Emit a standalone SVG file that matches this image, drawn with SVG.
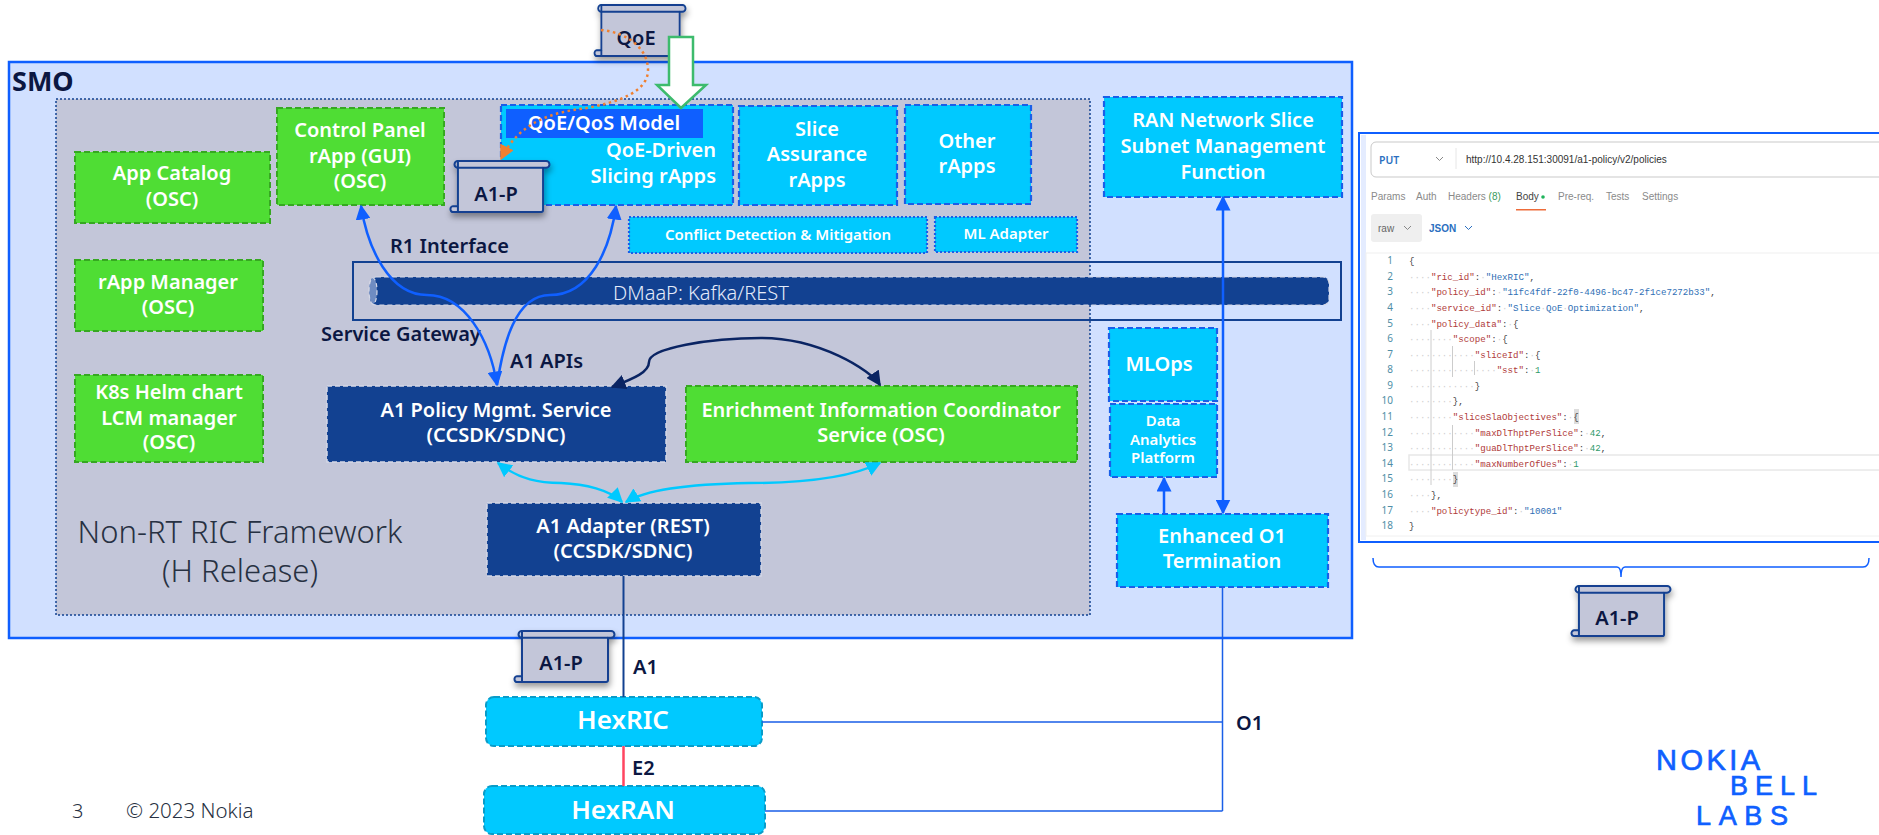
<svg xmlns="http://www.w3.org/2000/svg" width="1879" height="835" viewBox="0 0 1879 835">
<style>
text{font-family:"Noto Sans","Open Sans","Liberation Sans",sans-serif}
.w{fill:#fff;font-weight:600;text-anchor:middle}
.d{fill:#0b1742;font-weight:600}
.cy{fill:#00c9ff;stroke:#1a5fe8;stroke-width:2.2;stroke-dasharray:6 3}
.gr{fill:#4fdd34;stroke:#36a821;stroke-width:2;stroke-dasharray:6 3}
.nv{fill:#124191;stroke:#d5d8e6;stroke-width:1.5;stroke-dasharray:5 3}
.hx{fill:#00c9ff;stroke:#0a9cc8;stroke-width:2;stroke-dasharray:6 3}
.f20{font-size:20px}.f15{font-size:15px}
.m{font-family:"Liberation Mono",monospace;font-size:9.15px}
.sm{font-family:"Liberation Sans",sans-serif;font-size:10px;fill:#8a8a8a}
.s{fill:#d0d0d0}.k{fill:#b03a3a}.v{fill:#2f6fb5}.n{fill:#2f9a6c}.p{fill:#444}
.ln{font-family:"Liberation Mono",monospace;font-size:10px;fill:#4f8ea6;text-anchor:end}
.logo{fill:#0f5fff;font-family:"Liberation Sans",sans-serif;stroke:#0f5fff;stroke-width:.7}
</style>
<defs>
<filter id="sh" x="-20%" y="-20%" width="150%" height="150%"><feDropShadow dx="1" dy="4" stdDeviation="3" flood-color="#000" flood-opacity=".4"/></filter>
<marker id="ab" viewBox="0 0 10 10" refX="9" refY="5" markerWidth="6" markerHeight="6" orient="auto-start-reverse" markerUnits="strokeWidth"><path d="M0 0L10 5L0 10z" fill="#0f5fff"/></marker>
<marker id="an" viewBox="0 0 10 10" refX="9" refY="5" markerWidth="6" markerHeight="6" orient="auto-start-reverse" markerUnits="strokeWidth"><path d="M0 0L10 5L0 10z" fill="#0a2463"/></marker>
<marker id="ac" viewBox="0 0 10 10" refX="9" refY="5" markerWidth="6" markerHeight="6" orient="auto-start-reverse" markerUnits="strokeWidth"><path d="M0 0L10 5L0 10z" fill="#00c9ff"/></marker>
<marker id="ao" viewBox="0 0 10 10" refX="9" refY="5" markerWidth="6" markerHeight="6" orient="auto" markerUnits="strokeWidth"><path d="M0 0L10 5L0 10z" fill="#f08030"/></marker>
<symbol id="scroll" viewBox="0 0 100 56" preserveAspectRatio="none" overflow="visible">
<path d="M7 2H96a3 3 0 0 1 0 7H93V52a2 2 0 0 1-2 2H3a3 3 0 0 1-1-6H7z" fill="#c3c6d9" stroke="#124191" stroke-width="2" stroke-linejoin="round"/>
<path d="M7 9H93M7 2a3 3 0 0 0 0 7M7 48V54" fill="none" stroke="#124191" stroke-width="2"/>
</symbol>
</defs>

<g id="smo"><rect x="9" y="62" width="1343" height="576" fill="#d1e0ff" stroke="#0f5fff" stroke-width="2.5"/><text x="12" y="91" font-size="27" class="d" style="font-weight:700">SMO</text></g>
<g id="framework"><rect x="56" y="99" width="1034" height="516" fill="#c3c6d9" stroke="#124191" stroke-width="1.5" stroke-dasharray="2 2"/>
<text x="240" y="543" font-size="31" font-weight="300" fill="#273142" text-anchor="middle">Non-RT RIC Framework</text>
<text x="240" y="582" font-size="31" font-weight="300" fill="#273142" text-anchor="middle">(H Release)</text></g>

<g id="app-catalog"><rect class="gr" x="75" y="152" width="195" height="71"/><text class="w f20" x="172" y="180">App Catalog</text><text class="w f20" x="172" y="206">(OSC)</text></g>
<g id="rapp-manager"><rect class="gr" x="75" y="260" width="188" height="71"/><text class="w f20" x="168" y="289">rApp Manager</text><text class="w f20" x="168" y="314">(OSC)</text></g>
<g id="k8s"><rect class="gr" x="75" y="375" width="188" height="87"/><text class="w f20" x="169" y="399">K8s Helm chart</text><text class="w f20" x="169" y="425">LCM manager</text><text class="w f20" x="169" y="449">(OSC)</text></g>
<g id="control-panel"><rect class="gr" x="277" y="108" width="167" height="97"/><text class="w f20" x="360" y="137">Control Panel</text><text class="w f20" x="360" y="163">rApp (GUI)</text><text class="w f20" x="360" y="188">(OSC)</text></g>
<g id="qoe-driven"><rect class="cy" x="501" y="105" width="232" height="100"/><rect x="506" y="109" width="197" height="29" fill="#0f5fff"/><text class="w f20" x="604" y="130">QoE/QoS Model</text><text class="w f20" x="716" y="157" style="text-anchor:end">QoE-Driven</text><text class="w f20" x="716" y="183" style="text-anchor:end">Slicing rApps</text></g>
<g id="slice-assurance"><rect class="cy" x="739" y="106" width="158" height="99"/><text class="w f20" x="817" y="136">Slice</text><text class="w f20" x="817" y="161">Assurance</text><text class="w f20" x="817" y="187">rApps</text></g>
<g id="other-rapps"><rect class="cy" x="905" y="105" width="126" height="99"/><text class="w f20" x="967" y="148">Other</text><text class="w f20" x="967" y="173">rApps</text></g>
<g id="conflict"><rect class="cy" x="629" y="217" width="298" height="36" style="stroke-dasharray:2 2"/><text class="w f15" x="778" y="240">Conflict Detection &amp; Mitigation</text></g>
<g id="ml-adapter"><rect class="cy" x="935" y="217" width="142" height="35" style="stroke-dasharray:2 2"/><text class="w f15" x="1006" y="239">ML Adapter</text></g>
<g id="nssmf"><rect class="cy" x="1104" y="97" width="238" height="100"/><text class="w f20" x="1223" y="127">RAN Network Slice</text><text class="w f20" x="1223" y="153">Subnet Management</text><text class="w f20" x="1223" y="179">Function</text></g>
<g id="service-gateway"><rect x="353" y="262" width="988" height="58" fill="none" stroke="#124191" stroke-width="2"/><text class="d f20" x="321" y="341">Service Gateway</text></g>
<g id="dmaap"><rect x="370" y="277" width="959" height="28" rx="6" fill="#124191" stroke="#d5d8e6" stroke-width="1.2" stroke-dasharray="5 3"/><ellipse cx="373" cy="291" rx="4" ry="13" fill="#6f8cc2" stroke="#d5d8e6" stroke-width="1.200" stroke-dasharray="4 3"/><text x="613" y="300" font-size="20" font-weight="300" fill="#e4ebfa">DMaaP: Kafka/REST</text></g>
<g id="a1-policy"><rect class="nv" x="327" y="386" width="339" height="76"/><text class="w f20" x="496" y="417">A1 Policy Mgmt. Service</text><text class="w f20" x="496" y="442">(CCSDK/SDNC)</text></g>
<g id="enrichment"><rect class="gr" x="686" y="386" width="391" height="76"/><text class="w f20" x="881" y="417">Enrichment Information Coordinator</text><text class="w f20" x="881" y="442">Service (OSC)</text></g>
<g id="a1-adapter"><rect class="nv" x="487" y="503" width="274" height="73"/><text class="w f20" x="623" y="533">A1 Adapter (REST)</text><text class="w f20" x="623" y="558">(CCSDK/SDNC)</text></g>
<g id="mlops"><rect class="cy" x="1109" y="328" width="108" height="73"/><text class="w f20" x="1159" y="371">MLOps</text></g>
<g id="data-analytics"><rect class="cy" x="1110" y="404" width="107" height="73"/><text class="w f15" x="1163" y="426">Data</text><text class="w f15" x="1163" y="445">Analytics</text><text class="w f15" x="1163" y="463">Platform</text></g>
<g id="o1-term"><rect class="cy" x="1117" y="514" width="211" height="73"/><text class="w f20" x="1222" y="543">Enhanced O1</text><text class="w f20" x="1222" y="568">Termination</text></g>
<g id="hexric"><rect class="hx" x="486" y="697" width="276" height="49" rx="8"/><text class="w" font-size="26" x="623" y="729">HexRIC</text></g>
<g id="hexran"><rect class="hx" x="484" y="786" width="281" height="48" rx="8"/><text class="w" font-size="26" x="623" y="819">HexRAN</text></g>

<g id="connectors" fill="none">
<path d="M623.500 576V697" stroke="#124191" stroke-width="2"/>
<path d="M623.500 746V786" stroke="#ff4560" stroke-width="2.500"/>
<path d="M762 722H1222.500M765 811H1222.500M1222.500 587V811" stroke="#1a5fe8" stroke-width="1.500"/>
<path d="M361 206C368 250 390 295 427 295C465 295 490 340 497 385" stroke="#0f5fff" stroke-width="2.500" marker-start="url(#ab)" marker-end="url(#ab)"/>
<path d="M616 206C610 250 590 295 550 295C515 295 503 345 497 385" stroke="#0f5fff" stroke-width="2.500" marker-start="url(#ab)"/>
<path d="M612 387C635 378 649 372 649 362C649 348 710 338 761 338C820 338 870 370 880 385" stroke="#0a2463" stroke-width="2.500" marker-start="url(#an)" marker-end="url(#an)"/>
<path d="M498 463C520 480 540 483 561 483C585 484 610 490 622 502" stroke="#00c9ff" stroke-width="2.500" marker-start="url(#ac)" marker-end="url(#ac)"/>
<path d="M880 463C850 478 800 483 749 483C690 484 645 490 626 502" stroke="#00c9ff" stroke-width="2.500" marker-start="url(#ac)" marker-end="url(#ac)"/>
<path d="M1164 514V478" stroke="#0f5fff" stroke-width="2.500" marker-end="url(#ab)"/>
<path d="M1223 197V513" stroke="#0f5fff" stroke-width="2.500" marker-start="url(#ab)" marker-end="url(#ab)"/>
<path d="M1373 558Q1373 567 1379 567H1617Q1621 567 1621 577Q1621 567 1625 567H1863Q1869 567 1869 558" stroke="#0f5fff" stroke-width="1.500"/>
</g>

<g id="interface-labels">
<text class="d f20" x="390" y="253">R1 Interface</text>
<text class="d f20" x="510" y="368">A1 APIs</text>
<text class="d f20" x="633" y="674">A1</text>
<text class="d f20" x="632" y="775">E2</text>
<text class="d f20" x="1236" y="730">O1</text>
</g>

<g id="a1p-upper"><use href="#scroll" x="451" y="159" width="99" height="55" filter="url(#sh)"/><text class="d f20" x="496" y="201" text-anchor="middle">A1-P</text></g>
<g id="a1p-lower"><use href="#scroll" x="515" y="629" width="100" height="55" filter="url(#sh)"/><text class="d f20" x="561" y="670" text-anchor="middle">A1-P</text></g>
<g id="a1p-right"><use href="#scroll" x="1572" y="584" width="99" height="54" filter="url(#sh)"/><text class="d f20" x="1617" y="625" text-anchor="middle">A1-P</text></g>
<g id="qoe"><use href="#scroll" x="595" y="3" width="91" height="55" filter="url(#sh)"/><text class="d f20" x="636" y="45" text-anchor="middle">QoE</text></g>
<path id="qoe-dotted" d="M601 30C630 33 648 50 648 70C648 92 618 102 587 108C555 112 520 120 501 159" fill="none" stroke="#f08030" stroke-width="2.500" stroke-dasharray="2.500 3.500" marker-end="url(#ao)"/>
<path id="qoe-arrow" d="M669 37H693V85H706L681 108L657 85H669Z" fill="#fff" stroke="#3dbb6d" stroke-width="2.500"/>

<g id="screenshot">
<rect x="1359" y="133" width="530" height="409" fill="#fff" stroke="#0f5fff" stroke-width="2"/>
<rect x="1361" y="135" width="5" height="405" fill="#e4ecff"/>
<rect x="1371" y="142" width="520" height="35" rx="5" fill="#fff" stroke="#c9c9c9"/>
<text x="1379" y="164" font-size="10.500" font-weight="600" fill="#2a6fc0">PUT</text>
<path d="M1436 157l3.500 3.500 3.500-3.500" fill="none" stroke="#888"/>
<path d="M1456 148V169" stroke="#e6e6e6"/>
<text x="1466" y="163" style="font-family:'Liberation Sans',sans-serif" font-size="10" fill="#333">http://10.4.28.151:30091/a1-policy/v2/policies</text>
<text class="sm" x="1371" y="200">Params</text><text class="sm" x="1416" y="200">Auth</text><text class="sm" x="1448" y="200">Headers <tspan fill="#3a9a5b">(8)</tspan></text><text class="sm" x="1516" y="200" style="fill:#444">Body</text><circle cx="1543" cy="197" r="1.800" fill="#1fb35b"/><text class="sm" x="1558" y="200">Pre-req.</text><text class="sm" x="1606" y="200">Tests</text><text class="sm" x="1642" y="200">Settings</text>
<rect x="1516" y="209" width="30" height="1.500" fill="#ee6c3a"/>
<rect x="1371" y="214" width="51" height="28" rx="3" fill="#efefef"/><text class="sm" x="1378" y="232" style="fill:#666">raw</text>
<path d="M1404 226l3.500 3.500 3.500-3.500" fill="none" stroke="#888"/>
<text x="1429" y="232" font-size="10" font-weight="600" fill="#2a6fc0" style="font-family:'Liberation Sans',sans-serif">JSON</text>
<path d="M1465 226l3.500 3.500 3.500-3.500" fill="none" stroke="#2a6fc0"/>
<rect x="1366" y="253" width="520" height="283" fill="#fff" stroke="#f0f0f0"/>
<rect x="1409" y="455" width="480" height="15" fill="#fff" stroke="#e8e8e8" stroke-width="1.500"/>
<path d="M1431 330V485M1452.500 346V377M1452.500 425V470M1474.500 361V375" stroke="#ccc"/>
<rect x="1574" y="409" width="5" height="15" fill="#ddd"/><rect x="1453" y="472" width="5" height="15" fill="#ddd"/>
<g class="ln"><text x="1393" y="264">1</text><text x="1393" y="280">2</text><text x="1393" y="295">3</text><text x="1393" y="311">4</text><text x="1393" y="327">5</text><text x="1393" y="342">6</text><text x="1393" y="358">7</text><text x="1393" y="373">8</text><text x="1393" y="389">9</text><text x="1393" y="404">10</text><text x="1393" y="420">11</text><text x="1393" y="436">12</text><text x="1393" y="451">13</text><text x="1393" y="467">14</text><text x="1393" y="482">15</text><text x="1393" y="498">16</text><text x="1393" y="514">17</text><text x="1393" y="529">18</text></g>
<g class="m">
<text x="1409" y="264" class="m p">{</text>
<text x="1409" y="280" class="m"><tspan class="s">····</tspan><tspan class="k">"ric_id"</tspan><tspan class="p">:</tspan><tspan class="s">·</tspan><tspan class="v">"HexRIC"</tspan><tspan class="p">,</tspan></text>
<text x="1409" y="295" class="m"><tspan class="s">····</tspan><tspan class="k">"policy_id"</tspan><tspan class="p">:</tspan><tspan class="s">·</tspan><tspan class="v">"11fc4fdf-22f0-4496-bc47-2f1ce7272b33"</tspan><tspan class="p">,</tspan></text>
<text x="1409" y="311" class="m"><tspan class="s">····</tspan><tspan class="k">"service_id"</tspan><tspan class="p">:</tspan><tspan class="s">·</tspan><tspan class="v">"Slice</tspan><tspan class="s">·</tspan><tspan class="v">QoE</tspan><tspan class="s">·</tspan><tspan class="v">Optimization"</tspan><tspan class="p">,</tspan></text>
<text x="1409" y="327" class="m"><tspan class="s">····</tspan><tspan class="k">"policy_data"</tspan><tspan class="p">:</tspan><tspan class="s">·</tspan><tspan class="p">{</tspan></text>
<text x="1409" y="342" class="m"><tspan class="s">········</tspan><tspan class="k">"scope"</tspan><tspan class="p">:</tspan><tspan class="s">·</tspan><tspan class="p">{</tspan></text>
<text x="1409" y="358" class="m"><tspan class="s">············</tspan><tspan class="k">"sliceId"</tspan><tspan class="p">:</tspan><tspan class="s">·</tspan><tspan class="p">{</tspan></text>
<text x="1409" y="373" class="m"><tspan class="s">················</tspan><tspan class="k">"sst"</tspan><tspan class="p">:</tspan><tspan class="s">·</tspan><tspan class="n">1</tspan></text>
<text x="1409" y="389" class="m"><tspan class="s">············</tspan><tspan class="p">}</tspan></text>
<text x="1409" y="404" class="m"><tspan class="s">········</tspan><tspan class="p">},</tspan></text>
<text x="1409" y="420" class="m"><tspan class="s">········</tspan><tspan class="k">"sliceSlaObjectives"</tspan><tspan class="p">:</tspan><tspan class="s">·</tspan><tspan class="p">{</tspan></text>
<text x="1409" y="436" class="m"><tspan class="s">············</tspan><tspan class="k">"maxDlThptPerSlice"</tspan><tspan class="p">:</tspan><tspan class="s">·</tspan><tspan class="n">42</tspan><tspan class="p">,</tspan></text>
<text x="1409" y="451" class="m"><tspan class="s">············</tspan><tspan class="k">"guaDlThptPerSlice"</tspan><tspan class="p">:</tspan><tspan class="s">·</tspan><tspan class="n">42</tspan><tspan class="p">,</tspan></text>
<text x="1409" y="467" class="m"><tspan class="s">············</tspan><tspan class="k">"maxNumberOfUes"</tspan><tspan class="p">:</tspan><tspan class="s">·</tspan><tspan class="n">1</tspan></text>
<text x="1409" y="482" class="m"><tspan class="s">········</tspan><tspan class="p">}</tspan></text>
<text x="1409" y="498" class="m"><tspan class="s">····</tspan><tspan class="p">},</tspan></text>
<text x="1409" y="514" class="m"><tspan class="s">····</tspan><tspan class="k">"policytype_id"</tspan><tspan class="p">:</tspan><tspan class="s">·</tspan><tspan class="v">"10001"</tspan></text>
<text x="1409" y="529" class="m p">}</text>
</g>
</g>

<g id="footer"><text x="72" y="818" font-size="20" font-weight="300" fill="#273142">3</text><text x="126" y="818" font-size="20.500" font-weight="300" fill="#273142">© 2023 Nokia</text></g>
<g id="logo"><text class="logo" font-size="29" x="1656" y="770" textLength="104">NOKIA</text><text class="logo" font-size="27" x="1730" y="794.500" textLength="87">BELL</text><text class="logo" font-size="27" x="1696" y="824.500" textLength="92">LABS</text></g>
</svg>
